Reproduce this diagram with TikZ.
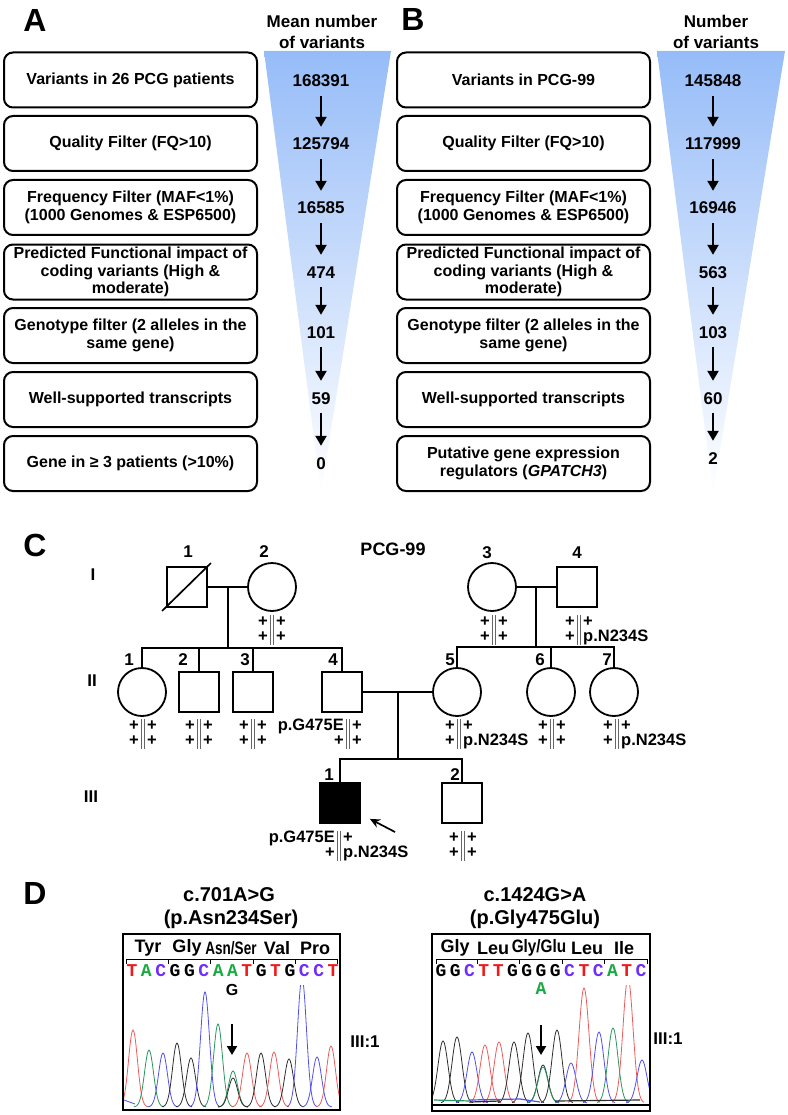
\documentclass[tikz,border=0pt]{standalone}
\usepackage{fontspec}
\setmainfont{Liberation Sans}
\setmonofont{Liberation Mono}
\usetikzlibrary{arrows.meta,positioning}

\definecolor{funtop}{RGB}{150,188,248}
\definecolor{seqred}{RGB}{240,25,25}
\definecolor{seqgreen}{RGB}{25,170,65}
\definecolor{seqblue}{RGB}{110,45,250}
\definecolor{trred}{RGB}{238,90,90}
\definecolor{trgreen}{RGB}{40,150,95}
\definecolor{trblue}{RGB}{80,80,235}
\definecolor{trblack}{RGB}{45,45,45}

% genotype: name, x of bars, y of top row, top left, top right, bottom left, bottom right
\newcommand{\geno}[7]{%
  \draw[black!60, line width=.8pt] (#2-1.7,#3-6) -- (#2-1.7,#3+24) (#2+1.7,#3-6) -- (#2+1.7,#3+24);
  \node[gtxt,anchor=east] (#1a) at (#2-4,#3) {#4};
  \node[gtxt,anchor=west] (#1b) at (#2+4,#3) {#5};
  \node[gtxt,anchor=east] (#1c) at (#2-4,#3+15) {#6};
  \node[gtxt,anchor=west] (#1d) at (#2+4,#3+15) {#7};
}

\begin{document}
\begin{tikzpicture}
  [x=1pt,y=-1pt,
   panel/.style={font=\fontsize{32}{32}\selectfont\bfseries},
   head/.style={font=\fontsize{17}{21}\selectfont\bfseries, align=center},
   stepbox/.style={draw, line width=2pt, rounded corners=9pt, minimum width=253pt,
     minimum height=55pt, align=center, inner sep=1pt,
     font=\fontsize{16}{17.5}\selectfont\bfseries},
   num/.style={font=\fontsize{17}{17}\selectfont\bfseries, text height=12pt,
     text depth=0pt, inner sep=2pt},
   flowarrow/.style={-{Triangle[width=11pt,length=10pt]}, line width=2.2pt,
     shorten <=7pt, shorten >=9pt},
   male/.style={draw, line width=1.8pt, minimum size=40pt, inner sep=0pt},
   female/.style={draw, circle, line width=1.8pt, minimum size=48pt, inner sep=0pt},
   pline/.style={line width=1.7pt},
   pnum/.style={font=\fontsize{17}{17}\selectfont\bfseries, inner sep=0pt},
   gen/.style={font=\fontsize{17}{17}\selectfont\bfseries, inner sep=0pt},
   gtxt/.style={font=\fontsize{16.5}{16.5}\selectfont\bfseries, inner sep=0pt,
     text height=10pt, text depth=0pt},
   title/.style={font=\fontsize{20}{20}\selectfont\bfseries},
   aa/.style={font=\fontsize{18}{18}\selectfont\bfseries, inner sep=0pt},
   base/.style={font=\fontsize{18}{18}\selectfont\ttfamily\bfseries, inner sep=0pt},
   baseT/.style={text=seqred}, baseA/.style={text=seqgreen},
   baseC/.style={text=seqblue}, baseG/.style={text=black},
   trace/.style={line width=.8pt}]

  \useasboundingbox (0,0) rectangle (787,1115);

  % ---- A ----
  \node[panel] (pa) at (35,20) {A};
  \node[head] (ha) at (322,32) {Mean number\\of variants};
  \shade[top color=funtop, bottom color=white] (264,51) -- (391,51) -- (321,493) -- cycle;

  \node[stepbox] (a1) at (130.5,80) {Variants in 26 PCG patients};
  \node[stepbox] (a2) at (130.5,143.5) {Quality Filter (FQ>10)};
  \node[stepbox] (a3) at (130.5,207.5) {Frequency Filter (MAF<1\%)\\(1000 Genomes \& ESP6500)};
  \node[stepbox] (a4) at (130.5,272) {Predicted Functional impact of\\coding variants (High \&\\moderate)};
  \node[stepbox] (a5) at (130.5,335.5) {Genotype filter (2 alleles in the\\same gene)};
  \node[stepbox] (a6) at (130.5,399.5) {Well-supported transcripts};
  \node[stepbox] (a7) at (130.5,463.5) {Gene in ≥ 3 patients (>10\%)};

  \node[num] (na1) at (321,81) {168391};
  \node[num] (na2) at (321,144) {125794};
  \node[num] (na3) at (321,208) {16585};
  \node[num] (na4) at (321,272) {474};
  \node[num] (na5) at (321,332) {101};
  \node[num] (na6) at (321,398) {59};
  \node[num] (na7) at (321,463) {0};
  \foreach \i [evaluate=\i as \j using int(\i+1)] in {1,...,6}
    \draw[flowarrow] (na\i) -- (na\j);

  % ---- B ----
  \node[panel] (pb) at (413,19) {B};
  \node[head] (hb) at (716,32) {Number\\of variants};
  \shade[top color=funtop, bottom color=white] (657,51) -- (785,51) -- (713,493) -- cycle;

  \node[stepbox] (b1) at (523.5,80) {Variants in PCG-99};
  \node[stepbox] (b2) at (523.5,143.5) {Quality Filter (FQ>10)};
  \node[stepbox] (b3) at (523.5,207.5) {Frequency Filter (MAF<1\%)\\(1000 Genomes \& ESP6500)};
  \node[stepbox] (b4) at (523.5,272) {Predicted Functional impact of\\coding variants (High \&\\moderate)};
  \node[stepbox] (b5) at (523.5,335.5) {Genotype filter (2 alleles in the\\same gene)};
  \node[stepbox] (b6) at (523.5,399.5) {Well-supported transcripts};
  \node[stepbox] (b7) at (523.5,463.5) {Putative gene expression\\regulators (\textit{GPATCH3})};

  \node[num] (nb1) at (713,81) {145848};
  \node[num] (nb2) at (713,144) {117999};
  \node[num] (nb3) at (713,208) {16946};
  \node[num] (nb4) at (713,272) {563};
  \node[num] (nb5) at (713,332) {103};
  \node[num] (nb6) at (713,398) {60};
  \node[num] (nb7) at (713,458) {2};
  \foreach \i [evaluate=\i as \j using int(\i+1)] in {1,...,6}
    \draw[flowarrow] (nb\i) -- (nb\j);

  % ---- C ----
  \node[panel] (pc) at (35,545) {C};
  \node[title, font=\fontsize{18}{18}\selectfont\bfseries] (pcg) at (393,549) {PCG-99};
  \node[gen] (g1) at (93,575) {I};
  \node[gen] (g2) at (92,681) {II};
  \node[gen] (g3) at (91,797) {III};

  \node[male] (i1) at (187,587) {};
  \node[female] (i2) at (272,587) {};
  \node[female] (i3) at (492,587) {};
  \node[male] (i4) at (577,587) {};
  \draw[pline] ([shift={(-4,3)}]i1.south west) -- ([shift={(3,-3)}]i1.north east);

  \node[female] (ii1) at (142,692) {};
  \node[male] (ii2) at (199,692) {};
  \node[male] (ii3) at (253,692) {};
  \node[male] (ii4) at (342,692) {};
  \node[female] (ii5) at (457,692) {};
  \node[female] (ii6) at (551,692) {};
  \node[female] (ii7) at (614,692) {};

  \node[male, fill=black] (iii1) at (340,803) {};
  \node[male] (iii2) at (462,803) {};

  \node[pnum] (n11) at (188,552) {1};
  \node[pnum] (n12) at (264,552) {2};
  \node[pnum] (n13) at (487,553) {3};
  \node[pnum] (n14) at (577,553) {4};
  \node[pnum] (n21) at (129,660) {1};
  \node[pnum] (n22) at (183,660) {2};
  \node[pnum] (n23) at (245,660) {3};
  \node[pnum] (n24) at (333,660) {4};
  \node[pnum] (n25) at (450,660) {5};
  \node[pnum] (n26) at (540,660) {6};
  \node[pnum] (n27) at (607,660) {7};
  \node[pnum] (n31) at (329,775) {1};
  \node[pnum] (n32) at (455,775) {2};

  \coordinate (m1) at (228,587);
  \coordinate (s1) at (228,648);
  \coordinate (m2) at (536,587);
  \coordinate (s2) at (536,647);
  \coordinate (m3) at (398,692);
  \coordinate (s3) at (398,759);

  \draw[pline] (i1) -- (i2);
  \draw[pline] (m1) -- (s1);
  \draw[pline] (ii1.north) |- (ii4.north |- s1) -- (ii4.north);
  \draw[pline] (ii2.north) -- (ii2.north |- s1);
  \draw[pline] (ii3.north) -- (ii3.north |- s1);

  \draw[pline] (i3) -- (i4);
  \draw[pline] (m2) -- (s2);
  \draw[pline] (ii5.north) |- (ii7.north |- s2) -- (ii7.north);
  \draw[pline] (ii6.north) -- (ii6.north |- s2);

  \draw[pline] (ii4) -- (ii5);
  \draw[pline] (m3) -- (s3);
  \draw[pline] (iii1.north) |- (iii2.north |- s3) -- (iii2.north);

  \coordinate (prob) at (395,832);
  \draw[line width=1.7pt, -{Stealth[length=10pt,width=9pt]}] (prob) -- ([shift={(9,-5)}]iii1.south east);

  \geno{gi2}{272}{621}{+}{+}{+}{+}
  \geno{gi3}{494}{621}{+}{+}{+}{+}
  \geno{gi4}{579}{621}{+}{+}{+}{p.N234S}
  \geno{gii1}{143}{725}{+}{+}{+}{+}
  \geno{gii2}{199}{725}{+}{+}{+}{+}
  \geno{gii3}{253}{725}{+}{+}{+}{+}
  \geno{gii4}{348}{725}{p.G475E}{+}{+}{+}
  \geno{gii5}{459}{725}{+}{+}{+}{p.N234S}
  \geno{gii6}{552}{725}{+}{+}{+}{+}
  \geno{gii7}{617}{725}{+}{+}{+}{p.N234S}
  \geno{giii1}{339}{837}{p.G475E}{+}{+}{p.N234S}
  \geno{giii2}{463}{837}{+}{+}{+}{+}

  % ---- D ----
  \node[panel] (pd) at (35,893) {D};

  % left trace
  \node[title] (tl1) at (229,895) {c.701A>G};
  \node[title] (tl2) at (231,919) {(p.Asn234Ser)};
  \draw[line width=2pt] (123,934) rectangle (340,1110);
  \node[aa] (al1) at (148,948) {Tyr};
  \node[aa] (al2) at (187,948) {Gly};
  \node[aa] (al3) at (231,948) {\scalebox{0.75}[1]{Asn/Ser}};
  \node[aa] (al4) at (277,948) {Val};
  \node[aa] (al5) at (315,948) {Pro};
  \draw[line width=1pt] (126,964) |- (337,959) -- (337,964);
  \foreach \t in {168,210,253,295}
    \draw[line width=1pt] (\t,959) -- (\t,964);
  \foreach \b [count=\i from 0] in {T,A,C,G,G,C,A,A,T,G,T,G,C,C,T}
    \node[base, base\b] (bl\i) at ({132+\i*14.36},971) {\b};
  \node[font=\fontsize{16}{16}\selectfont\bfseries, inner sep=0pt] (vl) at (232,990) {G};
  \begin{scope}
    \clip (124,985) rectangle (339,1109);
    \foreach \c/\h/\col in {133/77/trred,149/57/trgreen,163/54/trblue,177/64/trblack,
        191/49/trblack,205/115/trblue,218/83/trgreen,233/36/trgreen,233/29/trblack,
        247/54/trred,261/54/trblack,274/55/trred,289/48/trblack,302/129/trblue,
        317/50/trblue,331/61/trred}
      \draw[trace, \col] plot[domain=\c-15:\c+15, samples=31, smooth]
        (\x,{1107-\h*exp(-((\x-\c)^2)/40)});
    \draw[trace, trblue] (124,1100) -- (135,1104);
  \end{scope}
  \coordinate (al) at (232,1024);
  \coordinate (alt) at (232,1055);
  \draw[line width=2pt, -{Triangle[width=10pt,length=9pt]}] (al) -- (alt);
  \node[font=\fontsize{17}{17}\selectfont\bfseries] (il) at (365,1042) {III:1};

  % right trace
  \node[title] (tr1) at (535,895) {c.1424G>A};
  \node[title] (tr2) at (535,919) {(p.Gly475Glu)};
  \draw[line width=2pt] (432,934) rectangle (650,1111);
  \node[aa] (ar1) at (455,948) {Gly};
  \node[aa] (ar2) at (493,948) {Leu};
  \node[aa] (ar3) at (539,948) {\scalebox{0.85}[1]{Gly/Glu}};
  \node[aa] (ar4) at (587,948) {Leu};
  \node[aa] (ar5) at (624,948) {Ile};
  \draw[line width=1pt] (436,964) |- (647,959) -- (647,964);
  \foreach \t in {477,519,562,604}
    \draw[line width=1pt] (\t,959) -- (\t,964);
  \foreach \b [count=\i from 0] in {G,G,C,T,T,G,G,G,G,C,T,C,A,T,C}
    \node[base, base\b] (br\i) at ({441+\i*14.29},971) {\b};
  \node[base, baseA] (vr) at (541,989) {A};
  \begin{scope}
    \clip (433,985) rectangle (649,1110);
    \foreach \c/\h/\col in {443/62/trblack,457/66/trblack,472/51/trblue,485/58/trred,
        499/61/trred,514/61/trblack,528/70/trblack,543/38/trblack,543/36/trgreen,
        557/73/trblack,571/40/trblue,584/115/trred,599/71/trblue,613/75/trgreen,
        628/125/trred,642/43/trblue}
      \draw[trace, \col] plot[domain=\c-16:\c+16, samples=33, smooth]
        (\x,{1103-\h*exp(-((\x-\c)^2)/50)});
    \draw[line width=1.2pt, trgreen] (434,1100) -- (470,1101);
    \draw[line width=1.2pt, trblue] (470,1100) -- (520,1099) -- (540,1102);
    \draw[line width=1.2pt, trblack] (470,1102) -- (500,1101);
    \draw[line width=1.2pt, trblack] (555,1101) -- (640,1100);
    \draw[line width=1.5pt, black] (433,1105) -- (649,1105);
  \end{scope}
  \coordinate (ar) at (541,1025);
  \coordinate (art) at (541,1055);
  \draw[line width=2pt, -{Triangle[width=10pt,length=9pt]}] (ar) -- (art);
  \node[font=\fontsize{17}{17}\selectfont\bfseries] (irr) at (668,1039) {III:1};
\end{tikzpicture}
\end{document}
